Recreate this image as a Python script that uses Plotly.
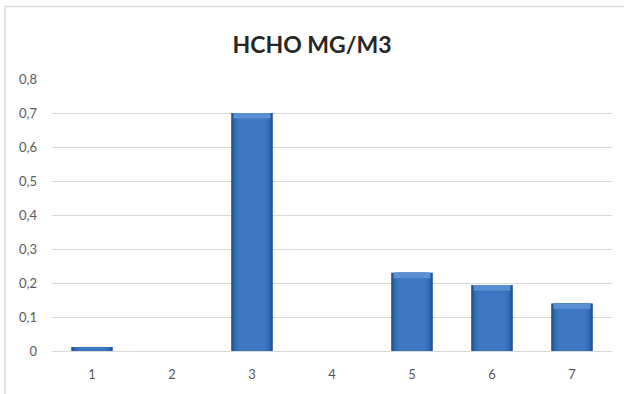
import plotly.graph_objects as go

# HCHO concentration per sampling point (mg/m3)
points = ["1", "2", "3", "4", "5", "6", "7"]
hcho = [0.012, 0.0, 0.70, 0.0, 0.23, 0.194, 0.14]
y_ticks = [0, 0.1, 0.2, 0.3, 0.4, 0.5, 0.6, 0.7, 0.8]
y_tick_text = ["0", "0,1", "0,2", "0,3", "0,4", "0,5", "0,6", "0,7", "0,8"]

fig = go.Figure()

# Layered bars give the bevelled, shaded column look
layers = [
    (0.52, "#22508E"),
    (0.48, "#2D62A6"),
    (0.43, "#386FB8"),
    (0.34, "#3F78C2"),
]
for width, color in layers:
    fig.add_trace(go.Bar(
        x=points, y=hcho, width=width,
        marker=dict(color=color, line=dict(width=0)),
        hoverinfo="skip", showlegend=False,
    ))

# Lighter bevel along the top of each column
bevel = 0.016
top_x = [p for p, v in zip(points, hcho) if v > 2 * bevel]
top_v = [v for v in hcho if v > 2 * bevel]
fig.add_trace(go.Bar(
    x=top_x, y=[bevel] * len(top_x), base=[v - bevel for v in top_v],
    width=0.46, marker=dict(color="#5B8FD4", line=dict(width=0)),
    hoverinfo="skip", showlegend=False,
))

fig.update_layout(
    barmode="overlay",
    width=624, height=394,
    margin=dict(l=52, r=12, t=79, b=41),
    paper_bgcolor="white",
    plot_bgcolor="white",
    font=dict(family="Lato, Open Sans, sans-serif", color="#595959", size=13),
    title=dict(
        text="<b>HCHO MG/M3</b>",
        x=0.5, xanchor="center", xref="container",
        y=1 - 45 / 394, yanchor="middle", yref="container",
        font=dict(family="Lato, Open Sans, sans-serif", size=23, color="#262626"),
    ),
    xaxis=dict(
        showgrid=False, zeroline=False, showline=False,
        ticks="", ticklabelstandoff=14,
        tickfont=dict(size=13, color="#595959"),
    ),
    yaxis=dict(
        range=[0, 0.8], tickvals=y_ticks, ticktext=y_tick_text,
        showgrid=True, gridcolor="#D9D9D9", gridwidth=1,
        zeroline=True, zerolinecolor="#D9D9D9", zerolinewidth=1,
        showline=False, ticks="", ticklabelstandoff=14,
        tickfont=dict(size=13, color="#595959"),
    ),
    shapes=[dict(
        type="rect", xref="paper", yref="paper",
        x0=-47 / 560, x1=1 + 40 / 560, y0=-80 / 274, y1=(274 + 73) / 274,
        line=dict(color="#D9D9D9", width=1.5), fillcolor="rgba(0,0,0,0)",
        layer="below",
    )],
)

fig.write_html("out.html")
